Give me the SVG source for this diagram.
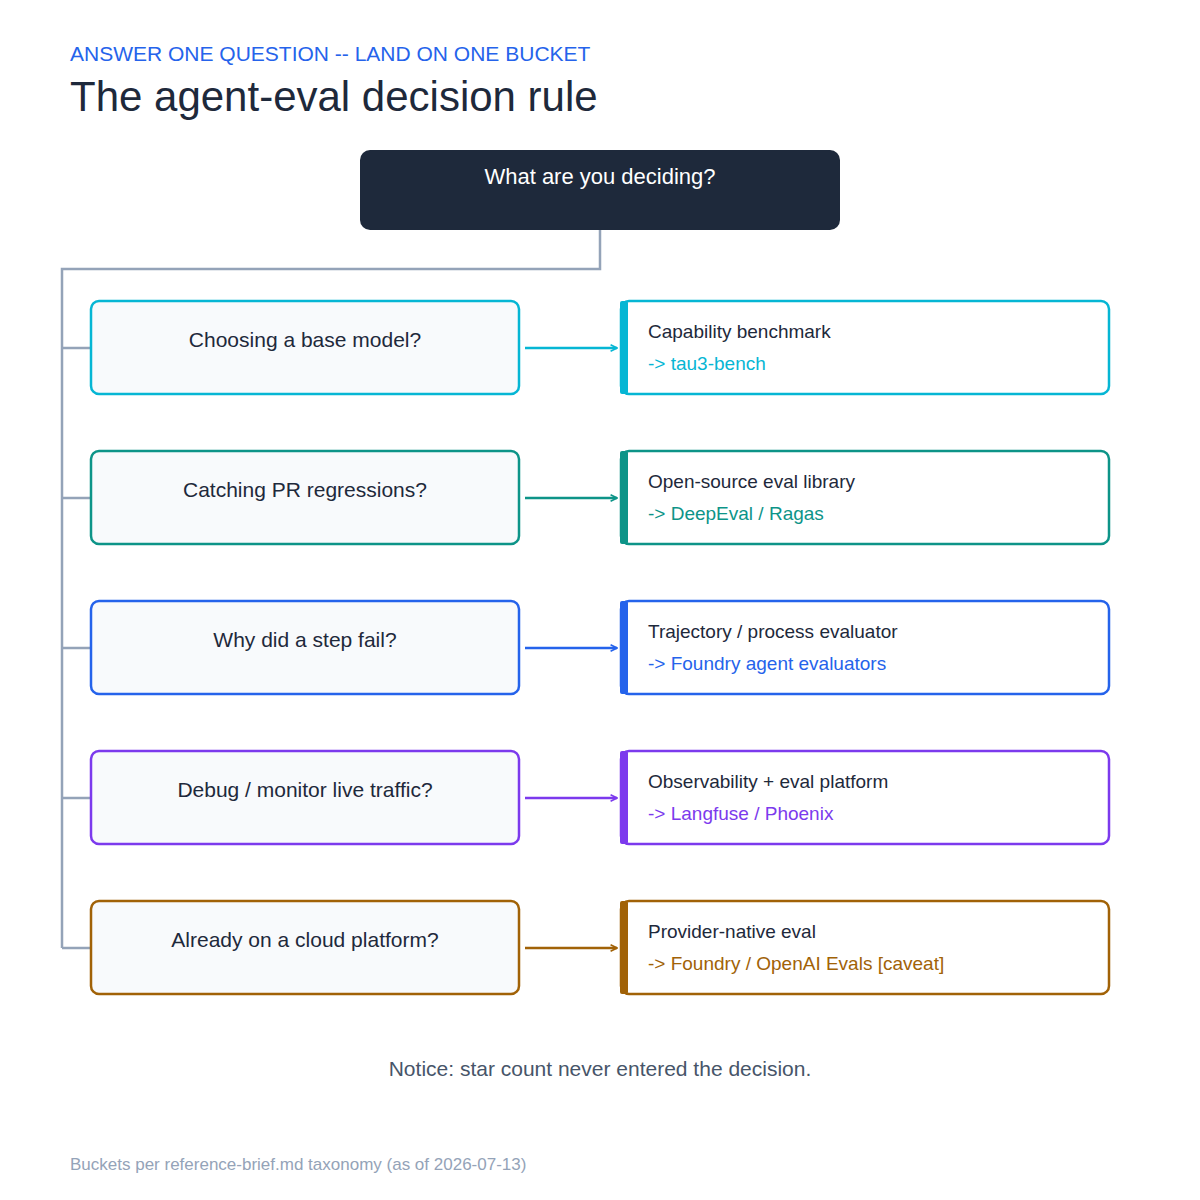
<svg xmlns="http://www.w3.org/2000/svg" width="1200" height="1200" viewBox="0 0 1200 1200">
<style>
text{font-family:"Liberation Sans",Arial,sans-serif}
.q{fill:#f8fafc;stroke-width:2.5}
.a{fill:#fff;stroke-width:2.5}
.qt{font-size:21px;fill:#1e293b;text-anchor:middle}
.at{font-size:19px;fill:#1e293b}
.as{font-size:19px}
.c{fill:none;stroke:#94a3b8;stroke-width:2.5}
.e{stroke-width:2.5;fill:none}
</style>
<defs>
<marker id="m1" viewBox="0 0 10 10" refX="9" refY="5" markerWidth="8" markerHeight="8" orient="auto" markerUnits="userSpaceOnUse"><path d="M1 1 L9 5 L1 9" fill="none" stroke="#06b6d4" stroke-width="2"/></marker>
<marker id="m2" viewBox="0 0 10 10" refX="9" refY="5" markerWidth="8" markerHeight="8" orient="auto" markerUnits="userSpaceOnUse"><path d="M1 1 L9 5 L1 9" fill="none" stroke="#0d9488" stroke-width="2"/></marker>
<marker id="m3" viewBox="0 0 10 10" refX="9" refY="5" markerWidth="8" markerHeight="8" orient="auto" markerUnits="userSpaceOnUse"><path d="M1 1 L9 5 L1 9" fill="none" stroke="#2563eb" stroke-width="2"/></marker>
<marker id="m4" viewBox="0 0 10 10" refX="9" refY="5" markerWidth="8" markerHeight="8" orient="auto" markerUnits="userSpaceOnUse"><path d="M1 1 L9 5 L1 9" fill="none" stroke="#7c3aed" stroke-width="2"/></marker>
<marker id="m5" viewBox="0 0 10 10" refX="9" refY="5" markerWidth="8" markerHeight="8" orient="auto" markerUnits="userSpaceOnUse"><path d="M1 1 L9 5 L1 9" fill="none" stroke="#a16207" stroke-width="2"/></marker>
</defs>
<rect width="1200" height="1200" fill="#fff"/>
<text x="70" y="61" font-size="21" fill="#2563eb">ANSWER ONE QUESTION -- LAND ON ONE BUCKET</text>
<text x="70" y="111" font-size="42" fill="#1e293b">The agent-eval decision rule</text>
<g id="root"><rect x="360" y="150" width="480" height="80" rx="10" fill="#1e293b"/><text x="600" y="184" font-size="22" fill="#fff" text-anchor="middle">What are you deciding?</text></g>
<g id="connectors">
<path class="c" d="M600 230 V269 H62 V948 M62 348 H91 M62 498 H91 M62 648 H91 M62 798 H91 M62 948 H91"/>
<path class="e" stroke="#06b6d4" d="M525 348 H617" marker-end="url(#m1)"/>
<path class="e" stroke="#0d9488" d="M525 498 H617" marker-end="url(#m2)"/>
<path class="e" stroke="#2563eb" d="M525 648 H617" marker-end="url(#m3)"/>
<path class="e" stroke="#7c3aed" d="M525 798 H617" marker-end="url(#m4)"/>
<path class="e" stroke="#a16207" d="M525 948 H617" marker-end="url(#m5)"/>
</g>
<g id="q1"><rect class="q" x="91" y="301" width="428" height="93" rx="8" stroke="#06b6d4"/><text class="qt" x="305" y="347">Choosing a base model?</text></g>
<g id="a1"><rect class="a" x="621" y="301" width="488" height="93" rx="8" stroke="#06b6d4"/><rect x="620" y="301" width="8" height="93" rx="2" fill="#06b6d4"/><text class="at" x="648" y="338">Capability benchmark</text><text class="as" x="648" y="370" fill="#06b6d4">-&gt; tau3-bench</text></g>
<g id="q2"><rect class="q" x="91" y="451" width="428" height="93" rx="8" stroke="#0d9488"/><text class="qt" x="305" y="497">Catching PR regressions?</text></g>
<g id="a2"><rect class="a" x="621" y="451" width="488" height="93" rx="8" stroke="#0d9488"/><rect x="620" y="451" width="8" height="93" rx="2" fill="#0d9488"/><text class="at" x="648" y="488">Open-source eval library</text><text class="as" x="648" y="520" fill="#0d9488">-&gt; DeepEval / Ragas</text></g>
<g id="q3"><rect class="q" x="91" y="601" width="428" height="93" rx="8" stroke="#2563eb"/><text class="qt" x="305" y="647">Why did a step fail?</text></g>
<g id="a3"><rect class="a" x="621" y="601" width="488" height="93" rx="8" stroke="#2563eb"/><rect x="620" y="601" width="8" height="93" rx="2" fill="#2563eb"/><text class="at" x="648" y="638">Trajectory / process evaluator</text><text class="as" x="648" y="670" fill="#2563eb">-&gt; Foundry agent evaluators</text></g>
<g id="q4"><rect class="q" x="91" y="751" width="428" height="93" rx="8" stroke="#7c3aed"/><text class="qt" x="305" y="797">Debug / monitor live traffic?</text></g>
<g id="a4"><rect class="a" x="621" y="751" width="488" height="93" rx="8" stroke="#7c3aed"/><rect x="620" y="751" width="8" height="93" rx="2" fill="#7c3aed"/><text class="at" x="648" y="788">Observability + eval platform</text><text class="as" x="648" y="820" fill="#7c3aed">-&gt; Langfuse / Phoenix</text></g>
<g id="q5"><rect class="q" x="91" y="901" width="428" height="93" rx="8" stroke="#a16207"/><text class="qt" x="305" y="947">Already on a cloud platform?</text></g>
<g id="a5"><rect class="a" x="621" y="901" width="488" height="93" rx="8" stroke="#a16207"/><rect x="620" y="901" width="8" height="93" rx="2" fill="#a16207"/><text class="at" x="648" y="938">Provider-native eval</text><text class="as" x="648" y="970" fill="#a16207">-&gt; Foundry / OpenAI Evals [caveat]</text></g>
<text x="600" y="1076" font-size="21" fill="#475569" text-anchor="middle">Notice: star count never entered the decision.</text>
<text x="70" y="1170" font-size="17" fill="#94a3b8">Buckets per reference-brief.md taxonomy (as of 2026-07-13)</text>
</svg>
